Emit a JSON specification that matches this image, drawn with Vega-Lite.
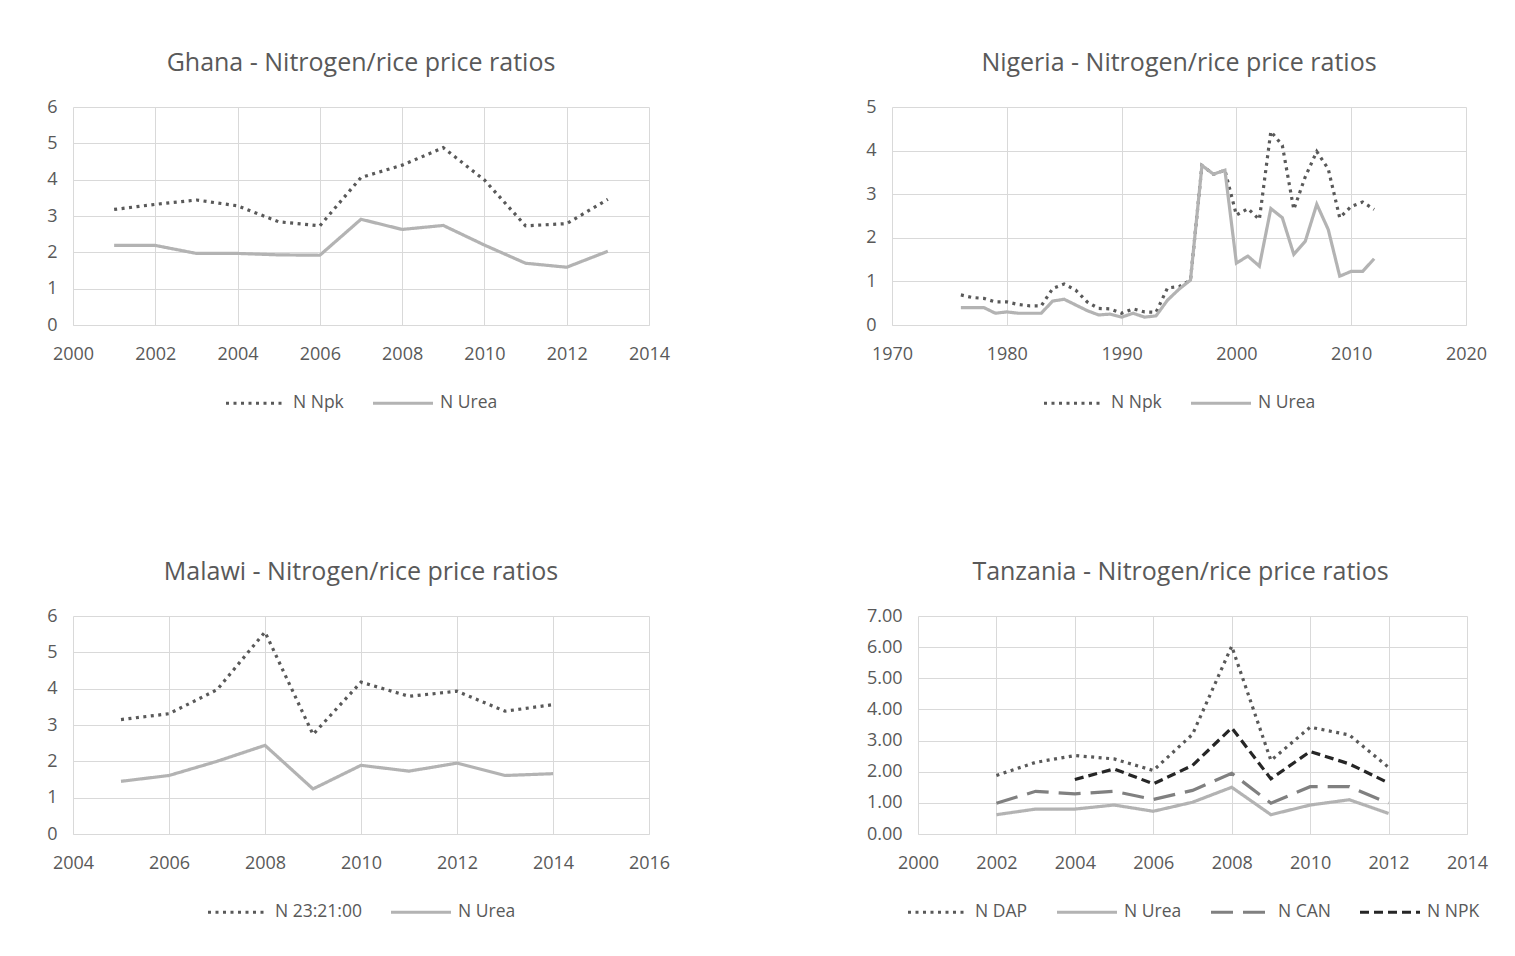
{
  "$schema": "https://vega.github.io/schema/vega-lite/v6.json",
  "background": "white",
  "padding": {"left": 46, "top": 51, "right": 5, "bottom": 5},
  "datasets": {
    "ghana": [
      {"year": 2001, "series": "N Npk", "value": 3.18}, {"year": 2002, "series": "N Npk", "value": 3.32},
      {"year": 2003, "series": "N Npk", "value": 3.44}, {"year": 2004, "series": "N Npk", "value": 3.28},
      {"year": 2005, "series": "N Npk", "value": 2.84}, {"year": 2006, "series": "N Npk", "value": 2.73},
      {"year": 2007, "series": "N Npk", "value": 4.06}, {"year": 2008, "series": "N Npk", "value": 4.40},
      {"year": 2009, "series": "N Npk", "value": 4.88}, {"year": 2010, "series": "N Npk", "value": 3.99},
      {"year": 2011, "series": "N Npk", "value": 2.73}, {"year": 2012, "series": "N Npk", "value": 2.79},
      {"year": 2013, "series": "N Npk", "value": 3.46},
      {"year": 2001, "series": "N Urea", "value": 2.19}, {"year": 2002, "series": "N Urea", "value": 2.19},
      {"year": 2003, "series": "N Urea", "value": 1.97}, {"year": 2004, "series": "N Urea", "value": 1.97},
      {"year": 2005, "series": "N Urea", "value": 1.93}, {"year": 2006, "series": "N Urea", "value": 1.92},
      {"year": 2007, "series": "N Urea", "value": 2.91}, {"year": 2008, "series": "N Urea", "value": 2.63},
      {"year": 2009, "series": "N Urea", "value": 2.74}, {"year": 2010, "series": "N Urea", "value": 2.20},
      {"year": 2011, "series": "N Urea", "value": 1.70}, {"year": 2012, "series": "N Urea", "value": 1.59},
      {"year": 2013, "series": "N Urea", "value": 2.03}
    ],
    "nigeria": [
      {"year": 1976, "series": "N Npk", "value": 0.69}, {"year": 1977, "series": "N Npk", "value": 0.63},
      {"year": 1978, "series": "N Npk", "value": 0.61}, {"year": 1979, "series": "N Npk", "value": 0.53},
      {"year": 1980, "series": "N Npk", "value": 0.53}, {"year": 1981, "series": "N Npk", "value": 0.47},
      {"year": 1982, "series": "N Npk", "value": 0.44}, {"year": 1983, "series": "N Npk", "value": 0.44},
      {"year": 1984, "series": "N Npk", "value": 0.84}, {"year": 1985, "series": "N Npk", "value": 0.94},
      {"year": 1986, "series": "N Npk", "value": 0.80}, {"year": 1987, "series": "N Npk", "value": 0.53},
      {"year": 1988, "series": "N Npk", "value": 0.38}, {"year": 1989, "series": "N Npk", "value": 0.37},
      {"year": 1990, "series": "N Npk", "value": 0.27}, {"year": 1991, "series": "N Npk", "value": 0.37},
      {"year": 1992, "series": "N Npk", "value": 0.30}, {"year": 1993, "series": "N Npk", "value": 0.29},
      {"year": 1994, "series": "N Npk", "value": 0.85}, {"year": 1995, "series": "N Npk", "value": 0.88},
      {"year": 1996, "series": "N Npk", "value": 1.03}, {"year": 1997, "series": "N Npk", "value": 3.66},
      {"year": 1998, "series": "N Npk", "value": 3.46}, {"year": 1999, "series": "N Npk", "value": 3.55},
      {"year": 2000, "series": "N Npk", "value": 2.52}, {"year": 2001, "series": "N Npk", "value": 2.67},
      {"year": 2002, "series": "N Npk", "value": 2.42}, {"year": 2003, "series": "N Npk", "value": 4.44},
      {"year": 2004, "series": "N Npk", "value": 4.12}, {"year": 2005, "series": "N Npk", "value": 2.65},
      {"year": 2006, "series": "N Npk", "value": 3.40}, {"year": 2007, "series": "N Npk", "value": 3.98},
      {"year": 2008, "series": "N Npk", "value": 3.58}, {"year": 2009, "series": "N Npk", "value": 2.46},
      {"year": 2010, "series": "N Npk", "value": 2.72}, {"year": 2011, "series": "N Npk", "value": 2.82},
      {"year": 2012, "series": "N Npk", "value": 2.65},
      {"year": 1976, "series": "N Urea", "value": 0.40}, {"year": 1977, "series": "N Urea", "value": 0.40},
      {"year": 1978, "series": "N Urea", "value": 0.40}, {"year": 1979, "series": "N Urea", "value": 0.27},
      {"year": 1980, "series": "N Urea", "value": 0.30}, {"year": 1981, "series": "N Urea", "value": 0.27},
      {"year": 1982, "series": "N Urea", "value": 0.27}, {"year": 1983, "series": "N Urea", "value": 0.27},
      {"year": 1984, "series": "N Urea", "value": 0.55}, {"year": 1985, "series": "N Urea", "value": 0.59},
      {"year": 1986, "series": "N Urea", "value": 0.46}, {"year": 1987, "series": "N Urea", "value": 0.33},
      {"year": 1988, "series": "N Urea", "value": 0.23}, {"year": 1989, "series": "N Urea", "value": 0.25},
      {"year": 1990, "series": "N Urea", "value": 0.18}, {"year": 1991, "series": "N Urea", "value": 0.27},
      {"year": 1992, "series": "N Urea", "value": 0.18}, {"year": 1993, "series": "N Urea", "value": 0.21},
      {"year": 1994, "series": "N Urea", "value": 0.57}, {"year": 1995, "series": "N Urea", "value": 0.82},
      {"year": 1996, "series": "N Urea", "value": 1.03}, {"year": 1997, "series": "N Urea", "value": 3.66},
      {"year": 1998, "series": "N Urea", "value": 3.46}, {"year": 1999, "series": "N Urea", "value": 3.55},
      {"year": 2000, "series": "N Urea", "value": 1.42}, {"year": 2001, "series": "N Urea", "value": 1.58},
      {"year": 2002, "series": "N Urea", "value": 1.35}, {"year": 2003, "series": "N Urea", "value": 2.67},
      {"year": 2004, "series": "N Urea", "value": 2.46}, {"year": 2005, "series": "N Urea", "value": 1.62},
      {"year": 2006, "series": "N Urea", "value": 1.92}, {"year": 2007, "series": "N Urea", "value": 2.77},
      {"year": 2008, "series": "N Urea", "value": 2.19}, {"year": 2009, "series": "N Urea", "value": 1.12},
      {"year": 2010, "series": "N Urea", "value": 1.23}, {"year": 2011, "series": "N Urea", "value": 1.23},
      {"year": 2012, "series": "N Urea", "value": 1.52}
    ],
    "malawi": [
      {"year": 2005, "series": "N 23:21:00", "value": 3.15}, {"year": 2006, "series": "N 23:21:00", "value": 3.31},
      {"year": 2007, "series": "N 23:21:00", "value": 3.97}, {"year": 2008, "series": "N 23:21:00", "value": 5.56},
      {"year": 2009, "series": "N 23:21:00", "value": 2.74}, {"year": 2010, "series": "N 23:21:00", "value": 4.18},
      {"year": 2011, "series": "N 23:21:00", "value": 3.79}, {"year": 2012, "series": "N 23:21:00", "value": 3.93},
      {"year": 2013, "series": "N 23:21:00", "value": 3.38}, {"year": 2014, "series": "N 23:21:00", "value": 3.56},
      {"year": 2005, "series": "N Urea", "value": 1.45}, {"year": 2006, "series": "N Urea", "value": 1.61},
      {"year": 2007, "series": "N Urea", "value": 2.00}, {"year": 2008, "series": "N Urea", "value": 2.44},
      {"year": 2009, "series": "N Urea", "value": 1.24}, {"year": 2010, "series": "N Urea", "value": 1.89},
      {"year": 2011, "series": "N Urea", "value": 1.73}, {"year": 2012, "series": "N Urea", "value": 1.95},
      {"year": 2013, "series": "N Urea", "value": 1.61}, {"year": 2014, "series": "N Urea", "value": 1.66}
    ],
    "tanzania": [
      {"year": 2002, "series": "N DAP", "value": 1.88}, {"year": 2003, "series": "N DAP", "value": 2.30},
      {"year": 2004, "series": "N DAP", "value": 2.52}, {"year": 2005, "series": "N DAP", "value": 2.41},
      {"year": 2006, "series": "N DAP", "value": 2.04}, {"year": 2007, "series": "N DAP", "value": 3.20},
      {"year": 2008, "series": "N DAP", "value": 6.03}, {"year": 2009, "series": "N DAP", "value": 2.36},
      {"year": 2010, "series": "N DAP", "value": 3.43}, {"year": 2011, "series": "N DAP", "value": 3.18},
      {"year": 2012, "series": "N DAP", "value": 2.14},
      {"year": 2002, "series": "N Urea", "value": 0.62}, {"year": 2003, "series": "N Urea", "value": 0.80},
      {"year": 2004, "series": "N Urea", "value": 0.80}, {"year": 2005, "series": "N Urea", "value": 0.93},
      {"year": 2006, "series": "N Urea", "value": 0.73}, {"year": 2007, "series": "N Urea", "value": 1.02},
      {"year": 2008, "series": "N Urea", "value": 1.50}, {"year": 2009, "series": "N Urea", "value": 0.62},
      {"year": 2010, "series": "N Urea", "value": 0.93}, {"year": 2011, "series": "N Urea", "value": 1.10},
      {"year": 2012, "series": "N Urea", "value": 0.66},
      {"year": 2002, "series": "N CAN", "value": 0.99}, {"year": 2003, "series": "N CAN", "value": 1.37},
      {"year": 2004, "series": "N CAN", "value": 1.29}, {"year": 2005, "series": "N CAN", "value": 1.37},
      {"year": 2006, "series": "N CAN", "value": 1.11}, {"year": 2007, "series": "N CAN", "value": 1.40},
      {"year": 2008, "series": "N CAN", "value": 1.95}, {"year": 2009, "series": "N CAN", "value": 0.99},
      {"year": 2010, "series": "N CAN", "value": 1.52}, {"year": 2011, "series": "N CAN", "value": 1.52},
      {"year": 2012, "series": "N CAN", "value": 0.99},
      {"year": 2004, "series": "N NPK", "value": 1.75}, {"year": 2005, "series": "N NPK", "value": 2.09},
      {"year": 2006, "series": "N NPK", "value": 1.61}, {"year": 2007, "series": "N NPK", "value": 2.20},
      {"year": 2008, "series": "N NPK", "value": 3.41}, {"year": 2009, "series": "N NPK", "value": 1.77},
      {"year": 2010, "series": "N NPK", "value": 2.65}, {"year": 2011, "series": "N NPK", "value": 2.25},
      {"year": 2012, "series": "N NPK", "value": 1.64}
    ]
  },
  "config": {
    "font": "Open Sans",
    "view": {"stroke": null},
    "axis": {
      "title": null, "grid": true, "gridColor": "#d9d9d9", "gridWidth": 1,
      "domainColor": "#d9d9d9", "ticks": false, "labelColor": "#595959",
      "labelFontSize": 18, "labelPadding": 16
    },
    "axisX": {"labelPadding": 20},
    "axisY": {"domain": false},
    "title": {"fontSize": 25, "fontWeight": "normal", "color": "#595959", "offset": 22, "anchor": "middle"},
    "legend": {
      "orient": "bottom", "direction": "horizontal", "title": null,
      "labelColor": "#595959", "labelFontSize": 17.5, "symbolType": "stroke",
      "symbolSize": 3600, "symbolStrokeWidth": 3, "labelOffset": 5,
      "columnPadding": 22, "offset": 8,
      "layout": {"bottom": {"anchor": "middle"}}
    },
    "line": {"strokeWidth": 3.2}
  },
  "spacing": 148,
  "resolve": {"scale": {"color": "independent", "strokeDash": "independent", "x": "independent", "y": "independent"}},
  "vconcat": [
    {
      "spacing": 195,
      "resolve": {"scale": {"color": "independent", "strokeDash": "independent", "x": "independent", "y": "independent"}},
      "hconcat": [
        {
          "width": 576, "height": 218,
          "title": {"text": "Ghana - Nitrogen/rice price ratios"},
          "data": {"name": "ghana"},
          "mark": {"type": "line"},
          "encoding": {
            "x": {"field": "year", "type": "quantitative", "scale": {"domain": [2000, 2014], "nice": false, "zero": false},
                  "axis": {"values": [2000, 2002, 2004, 2006, 2008, 2010, 2012, 2014], "format": "d", "labelFlush": false}},
            "y": {"field": "value", "type": "quantitative", "scale": {"domain": [0, 6], "nice": false},
                  "axis": {"values": [0, 1, 2, 3, 4, 5, 6]}},
            "color": {"field": "series", "type": "nominal", "scale": {"domain": ["N Npk", "N Urea"], "range": ["#595959", "#b3b3b3"]}},
            "strokeDash": {"field": "series", "type": "nominal", "scale": {"domain": ["N Npk", "N Urea"], "range": [[3, 4.5], [1, 0]]}}
          }
        },
        {
          "width": 574, "height": 218,
          "title": {"text": "Nigeria - Nitrogen/rice price ratios"},
          "data": {"name": "nigeria"},
          "mark": {"type": "line"},
          "encoding": {
            "x": {"field": "year", "type": "quantitative", "scale": {"domain": [1970, 2020], "nice": false, "zero": false},
                  "axis": {"values": [1970, 1980, 1990, 2000, 2010, 2020], "format": "d", "labelFlush": false}},
            "y": {"field": "value", "type": "quantitative", "scale": {"domain": [0, 5], "nice": false},
                  "axis": {"values": [0, 1, 2, 3, 4, 5]}},
            "color": {"field": "series", "type": "nominal", "scale": {"domain": ["N Npk", "N Urea"], "range": ["#595959", "#b3b3b3"]}},
            "strokeDash": {"field": "series", "type": "nominal", "scale": {"domain": ["N Npk", "N Urea"], "range": [[3, 4.5], [1, 0]]}}
          }
        }
      ]
    },
    {
      "spacing": 196,
      "resolve": {"scale": {"color": "independent", "strokeDash": "independent", "x": "independent", "y": "independent"}},
      "hconcat": [
        {
          "width": 576, "height": 218,
          "title": {"text": "Malawi - Nitrogen/rice price ratios"},
          "data": {"name": "malawi"},
          "mark": {"type": "line"},
          "encoding": {
            "x": {"field": "year", "type": "quantitative", "scale": {"domain": [2004, 2016], "nice": false, "zero": false},
                  "axis": {"values": [2004, 2006, 2008, 2010, 2012, 2014, 2016], "format": "d", "labelFlush": false}},
            "y": {"field": "value", "type": "quantitative", "scale": {"domain": [0, 6], "nice": false},
                  "axis": {"values": [0, 1, 2, 3, 4, 5, 6]}},
            "color": {"field": "series", "type": "nominal", "scale": {"domain": ["N 23:21:00", "N Urea"], "range": ["#595959", "#b3b3b3"]}},
            "strokeDash": {"field": "series", "type": "nominal", "scale": {"domain": ["N 23:21:00", "N Urea"], "range": [[3, 4.5], [1, 0]]}}
          }
        },
        {
          "width": 549, "height": 218,
          "title": {"text": "Tanzania - Nitrogen/rice price ratios", "dx": -12},
          "data": {"name": "tanzania"},
          "mark": {"type": "line"},
          "encoding": {
            "x": {"field": "year", "type": "quantitative", "scale": {"domain": [2000, 2014], "nice": false, "zero": false},
                  "axis": {"values": [2000, 2002, 2004, 2006, 2008, 2010, 2012, 2014], "format": "d", "labelFlush": false}},
            "y": {"field": "value", "type": "quantitative", "scale": {"domain": [0, 7], "nice": false},
                  "axis": {"values": [0, 1, 2, 3, 4, 5, 6, 7], "format": ".2f"}},
            "color": {"field": "series", "type": "nominal", "scale": {"domain": ["N DAP", "N Urea", "N CAN", "N NPK"], "range": ["#595959", "#b3b3b3", "#808080", "#262626"]}},
            "strokeDash": {"field": "series", "type": "nominal", "scale": {"domain": ["N DAP", "N Urea", "N CAN", "N NPK"], "range": [[3, 4.5], [1, 0], [22, 10], [9, 5]]}}
          }
        }
      ]
    }
  ]
}
